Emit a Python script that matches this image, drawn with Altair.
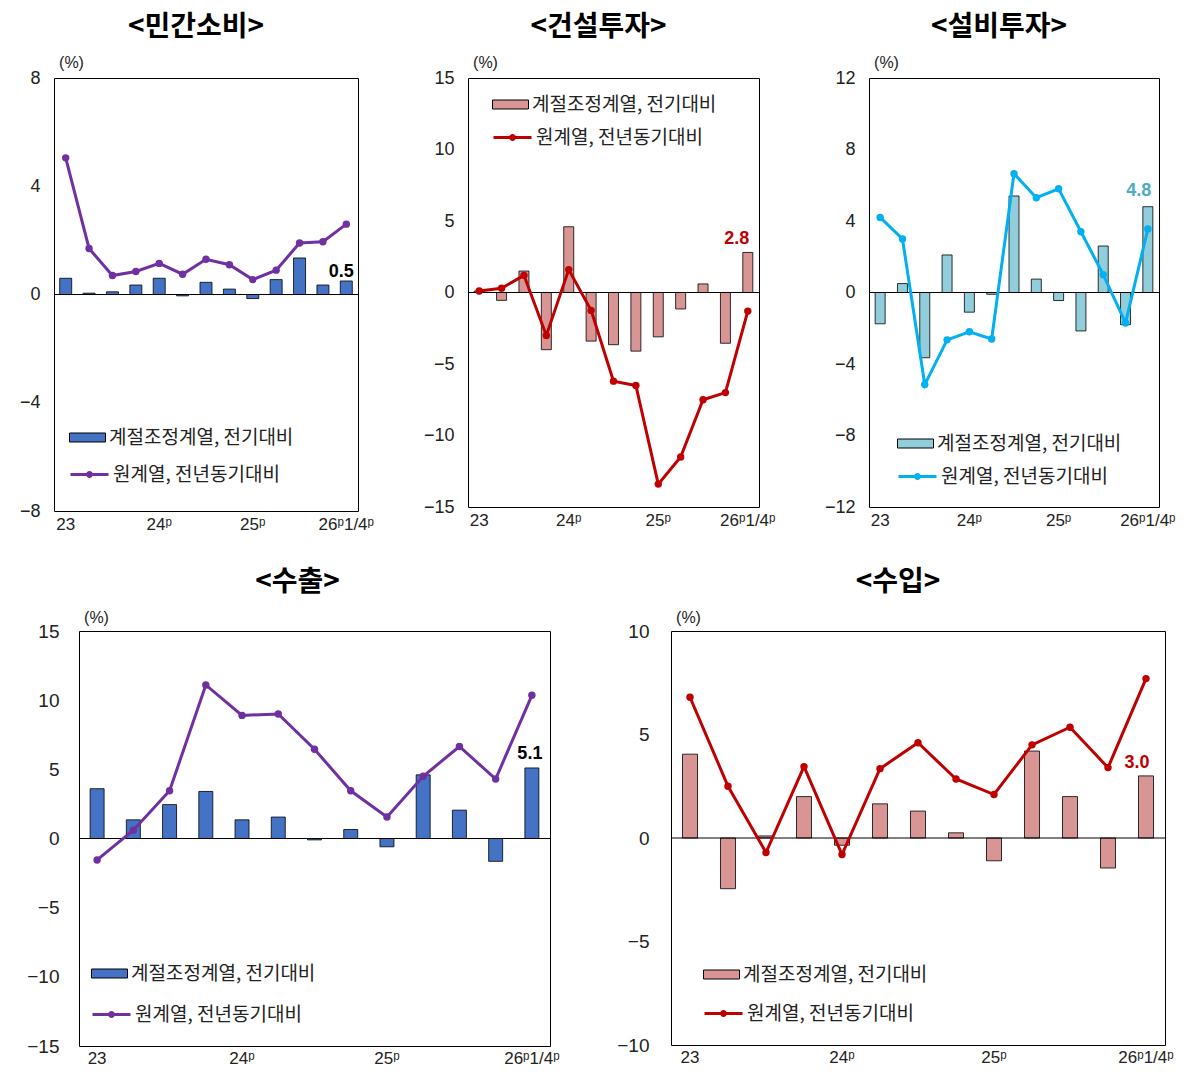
import altair as alt
import pandas as pd

# ---------------- data ----------------
quarters = ["23.1/4", "23.2/4", "23.3/4", "23.4/4",
            "24.1/4", "24.2/4", "24.3/4", "24.4/4",
            "25.1/4", "25.2/4", "25.3/4", "25.4/4",
            "26.1/4"]
tick_quarters = ["23.1/4", "24.1/4", "25.1/4", "26.1/4"]
tick_labels = ["23", "24ᵖ", "25ᵖ", "26ᵖ1/4ᵖ"]

bar_name = "계절조정계열, 전기대비"
line_name = "원계열, 전년동기대비"

titles = ["<민간소비>", "<건설투자>", "<설비투자>", "<수출>", "<수입>"]

consumption_bar = [0.6, 0.05, 0.1, 0.35, 0.6, -0.05, 0.45, 0.2, -0.15, 0.55, 1.35, 0.35, 0.5]
consumption_line = [5.05, 1.7, 0.7, 0.85, 1.15, 0.75, 1.3, 1.1, 0.55, 0.9, 1.9, 1.95, 2.6]

construction_bar = [0.1, -0.55, 1.5, -4.0, 4.6, -3.4, -3.65, -4.1, -3.1, -1.15, 0.6, -3.55, 2.8]
construction_line = [0.1, 0.3, 1.2, -3.0, 1.6, -1.25, -6.2, -6.5, -13.4, -11.5, -7.5, -7.0, -1.3]

equipment_bar = [-1.75, 0.5, -3.65, 2.1, -1.1, -0.1, 5.4, 0.75, -0.45, -2.15, 2.6, -1.8, 4.8]
equipment_line = [4.2, 3.0, -5.15, -2.65, -2.2, -2.6, 6.65, 5.3, 5.8, 3.4, 1.0, -1.7, 3.55]

exports_bar = [3.6, 1.35, 2.45, 3.4, 1.35, 1.55, -0.1, 0.65, -0.6, 4.6, 2.05, -1.65, 5.1]
exports_line = [-1.55, 0.6, 3.45, 11.1, 8.9, 9.0, 6.45, 3.45, 1.55, 4.5, 6.65, 4.3, 10.35]

imports_bar = [4.05, -2.45, 0.1, 2.0, -0.35, 1.65, 1.3, 0.25, -1.1, 4.2, 2.0, -1.45, 3.0]
imports_line = [6.8, 2.5, -0.7, 3.45, -0.8, 3.35, 4.6, 2.85, 2.1, 4.5, 5.35, 3.4, 7.7]

consumption_ticks = [-8, -4, 0, 4, 8]
construction_ticks = [-15, -10, -5, 0, 5, 10, 15]
equipment_ticks = [-12, -8, -4, 0, 4, 8, 12]
exports_ticks = [-15, -10, -5, 0, 5, 10, 15]
imports_ticks = [-10, -5, 0, 5, 10]

# ---------------- styling ----------------
NUM_FONT = "Liberation Sans"
KR_FONT = "Noto Sans CJK KR"

BAR_SYMBOL = "M-1,-0.25H1V0.25H-1Z"
LINE_SYMBOL = "M-1,0H1M0.1,0A0.1,0.1,0,1,1,-0.1,0A0.1,0.1,0,1,1,0.1,0"

tick_df = pd.DataFrame({"q": tick_quarters, "t": tick_labels})


def panel(title, bars_v, line_v, ticks, bar_color, line_color, label_color,
          width, height, bar_size, legend_x, legend_y1, legend_y2,
          lab_dx, lab_dy, ylab_pad, ylab_size, xlab_pad, title_offset, title_dx, pct_y):
    df = pd.DataFrame({"q": quarters, "bar": bars_v, "line": line_v,
                       "bs": bar_name, "ls": line_name})
    x = alt.X("q:N", sort=quarters,
              scale=alt.Scale(paddingInner=0, paddingOuter=0), axis=None)
    yscale = alt.Scale(domain=[ticks[0], ticks[-1]], nice=False)
    yaxis = alt.Axis(values=ticks, title="(%)", titleAngle=0, titleX=17, titleY=pct_y,
                     titleAlign="center", titleBaseline="middle",
                     titleFont=NUM_FONT, titleFontSize=16, titleFontWeight="normal",
                     titleColor="#222",
                     ticks=False, domain=False, grid=False,
                     labelFont=NUM_FONT, labelFontSize=ylab_size, labelColor="#222",
                     labelPadding=ylab_pad)
    base = alt.Chart(df).encode(x=x)
    bars = base.mark_bar(size=bar_size, stroke="black", strokeWidth=0.8).encode(
        y=alt.Y("bar:Q", scale=yscale, axis=yaxis),
        fill=alt.Fill("bs:N", scale=alt.Scale(domain=[bar_name], range=[bar_color]),
                      legend=alt.Legend(orient="none", legendX=legend_x, legendY=legend_y1,
                                        title=None, symbolType=BAR_SYMBOL, symbolSize=1296,
                                        symbolStrokeColor="black", symbolStrokeWidth=1,
                                        labelFont=KR_FONT, labelFontSize=19, labelLimit=600,
                                        labelColor="#222", labelOffset=3)))
    zero = alt.Chart(pd.DataFrame({"z": [0]})).mark_rule(color="black", strokeWidth=1).encode(
        y=alt.Y("z:Q", scale=yscale, axis=yaxis))
    line = base.mark_line(strokeWidth=3).encode(
        y=alt.Y("line:Q", scale=yscale, axis=yaxis),
        stroke=alt.Stroke("ls:N", scale=alt.Scale(domain=[line_name], range=[line_color]),
                          legend=alt.Legend(orient="none", legendX=legend_x, legendY=legend_y2,
                                            title=None, symbolType=LINE_SYMBOL, symbolSize=1444,
                                            symbolStrokeWidth=3, labelLimit=600,
                                            labelFont=KR_FONT, labelFontSize=19,
                                            labelColor="#222", labelOffset=3)))
    pts = base.mark_circle(size=55, opacity=1).encode(
        y=alt.Y("line:Q", scale=yscale, axis=yaxis), color=alt.value(line_color))
    lab = alt.Chart(df.iloc[[-1]]).mark_text(
        font=NUM_FONT, fontSize=18, fontWeight="bold", color=label_color,
        baseline="bottom", dx=lab_dx, dy=lab_dy).encode(
        x=x, y=alt.Y("bar:Q", scale=yscale, axis=yaxis),
        text=alt.Text("bar:Q", format=".1f"))
    xlab = alt.Chart(tick_df).mark_text(
        font=NUM_FONT + ", DejaVu Sans", fontSize=17, color="#222", baseline="top").encode(
        x=x, y=alt.value(height + xlab_pad), text="t:N")
    return alt.layer(bars, zero, line, pts, lab, xlab).properties(
        width=width, height=height,
        title=alt.TitleParams(title, font=KR_FONT, fontSize=28, fontWeight="bold",
                              color="black", offset=title_offset, dx=title_dx))


p1 = panel(titles[0], consumption_bar, consumption_line, consumption_ticks,
           "#4472c4", "#7030a0", "black", 304, 433, 12, 15, 341, 376,
           -5, 0, 14, 18, 6, 12, -10, -16)
p2 = panel(titles[1], construction_bar, construction_line, construction_ticks,
           "#d99594", "#c00000", "#c00000", 291, 429, 10, 24, 8, 39,
           -11, -4, 14, 18, 6, 12, -15, -16)
p3 = panel(titles[2], equipment_bar, equipment_line, equipment_ticks,
           "#92cddc", "#00b0f0", "#4bacc6", 290, 429, 10, 28, 347, 378,
           -9, -7, 14, 18, 6, 12, -15, -16)
p4 = panel(titles[3], exports_bar, exports_line, exports_ticks,
           "#4472c4", "#7030a0", "black", 471, 415, 14, 12, 324, 363,
           -2, -5, 20, 19, 5, 12, -17, -14)
p5 = panel(titles[4], imports_bar, imports_line, imports_ticks,
           "#d99594", "#c00000", "#c00000", 494, 414, 15, 32, 325, 362,
           -9, -4, 22, 19, 5, 12, -20, -14)

res = dict(fill="independent", stroke="independent", color="independent")


def spacer():
    return alt.Chart(pd.DataFrame({"a": [0]})).mark_point(opacity=0).encode(
        x=alt.value(0), y=alt.value(0)).properties(
        width=1, height=1, view=alt.ViewBackground(stroke="transparent"))


top_inner = alt.hconcat(p1, p2, p3, spacing=110, bounds="flush").resolve_scale(**res)
bottom_inner = alt.hconcat(p4, p5, spacing=121, bounds="flush").resolve_scale(**res)
top = alt.hconcat(spacer(), top_inner, spacing=0).resolve_scale(**res)
bottom = alt.hconcat(spacer(), bottom_inner, spacing=8).resolve_scale(**res)

chart = alt.vconcat(top, bottom, spacing=34).resolve_scale(**res).properties(
    padding={"left": 2, "top": 5, "right": 0, "bottom": 0},
    background="white"
).configure_view(stroke="black", strokeWidth=1)

chart.save("out.html", embed_options={"renderer": "svg", "actions": False})
